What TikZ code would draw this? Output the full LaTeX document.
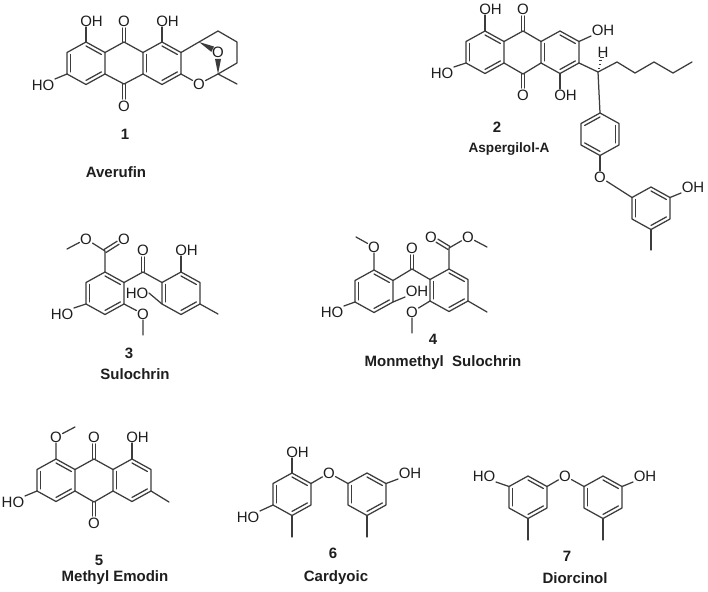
\documentclass[tikz,border=0pt]{standalone}
\usepackage{fontspec}
\setmainfont{Liberation Sans}
\usetikzlibrary{calc}
\definecolor{ink}{HTML}{1E1E1E}
\definecolor{bondc}{HTML}{3C3C3C}
\tikzset{
  bond/.style={draw=bondc,line width=1.25pt,line cap=round,line join=round},
  lab/.style={inner sep=0.5pt,text=ink,font=\fontsize{15}{15}\selectfont},
  num/.style={inner sep=0pt,text=ink,font=\fontsize{15}{15}\selectfont\bfseries},
  capt/.style={inner sep=0pt,text=ink,font=\fontsize{#1}{#1}\selectfont\bfseries},
  capt/.default=15
}
% hexagon: name, x of top atom, y of top atom
\newcommand{\hexcoords}[3]{%
  \coordinate (#11) at (#2,#3);
  \coordinate (#12) at (#2+19,#3+10.5);
  \coordinate (#13) at (#2+19,#3+32);
  \coordinate (#14) at (#2,#3+42.5);
  \coordinate (#15) at (#2-19,#3+32);
  \coordinate (#16) at (#2-19,#3+10.5);
  \coordinate (#1c) at (#2,#3+21);
  \draw[bond] (#11)--(#12)--(#13)--(#14)--(#15)--(#16)--cycle;
}
\newcommand{\dbin}[3]{\draw[bond] ($(#1)!0.19!(#3)$) -- ($(#2)!0.19!(#3)$);}
\newcommand{\hexa}[3]{\hexcoords{#1}{#2}{#3}\dbin{#16}{#15}{#1c}\dbin{#11}{#12}{#1c}\dbin{#13}{#14}{#1c}}
\newcommand{\hexb}[3]{\hexcoords{#1}{#2}{#3}\dbin{#11}{#16}{#1c}\dbin{#12}{#13}{#1c}\dbin{#14}{#15}{#1c}}
% C=O double bond from coordinate to node
\newcommand{\dco}[2]{%
  \draw[bond,shorten >=7pt] ($(#1)!1.8pt!90:(#2.center)$) -- ($(#2.center)!1.8pt!-90:(#1)$);
  \draw[bond,shorten >=7pt] ($(#1)!1.8pt!-90:(#2.center)$) -- ($(#2.center)!1.8pt!90:(#1)$);
}
\begin{document}
\begin{tikzpicture}[x=1pt,y=-1pt]
\useasboundingbox (0,0) rectangle (708,591);
\fill[white] (0,0) rectangle (708,591);

% ---------- 1 Averufin
\hexa{a}{86}{42}
\hexa{b}{162}{42}
\coordinate (a9) at (124,42);
\coordinate (a10) at (124,84);
\draw[bond] (a2)--(a9)--(b6) (a3)--(a10)--(b5);
\coordinate (a11) at (199,42);
\coordinate (a12) at (218,74);
\coordinate (a13) at (218,31);
\coordinate (a14) at (237,42);
\coordinate (a15) at (237,63);
\coordinate (a16) at (237,84);
\node[lab] (aoa) at (91.5,21) {OH};
\node[lab] (aob) at (124,21) {O};
\node[lab] (aoc) at (167.5,21) {OH};
\node[lab] (aod) at (43,85) {HO};
\node[lab] (aoe) at (124,106) {O};
\node[lab] (aof) at (199,84) {O};
\node[lab] (aog) at (218,52) {O};
\draw[bond] (a1) -- ([xshift=-5.5pt]aoa.south);
\draw[bond] (b1) -- ([xshift=-5.5pt]aoc.south);
\draw[bond] (a5) -- (aod.north east);
\dco{a9}{aob}
\dco{a10}{aoe}
\draw[bond] (b2)--(a11)--(a13)--(a14)--(a15)--(a12)--(a16);
\draw[bond] (b3)--(aof)--(a12);
\fill[bondc] (a11) -- ($(aog.center)!6pt!(a11)!3pt!90:(aog.center)$) -- ($(aog.center)!6pt!(a11)!3pt!-90:(aog.center)$) -- cycle;
\fill[bondc] (a12) -- ($(aog.center)!7pt!(a12)!3pt!90:(aog.center)$) -- ($(aog.center)!7pt!(a12)!3pt!-90:(aog.center)$) -- cycle;
\node[num] (n1) at (125,134) {1};
\node[capt] (t1) at (116,172) {Averufin};

% ---------- 2 Aspergilol-A
\hexa{c}{485}{31}
\hexa{d}{560}{31}
\coordinate (c9) at (523,31);
\coordinate (c10) at (523,74);
\draw[bond] (c2)--(c9)--(d6) (c3)--(c10)--(d5);
\node[lab] (coa) at (490.5,9) {OH};
\node[lab] (cob) at (523,9) {O};
\node[lab] (coc) at (603,30) {OH};
\node[lab] (cod) at (442,73) {HO};
\node[lab] (coe) at (523,95) {O};
\node[lab] (cof) at (565.5,95) {OH};
\draw[bond] (c1) -- ([xshift=-5.5pt]coa.south);
\dco{c9}{cob}
\dco{c10}{coe}
\draw[bond] (d2) -- (coc.south west);
\draw[bond] (c5) -- (cod.north east);
\draw[bond] (d4) -- ([xshift=-5.5pt]cof.north);
\coordinate (ch) at (598,72);
\coordinate (c21) at (617,62);
\coordinate (c22) at (635,73);
\coordinate (c23) at (654,62);
\coordinate (c24) at (673,73);
\coordinate (c25) at (692,62);
\draw[bond] (d3)--(ch)--(c21)--(c22)--(c23)--(c24)--(c25);
\node[lab] (cH) at (603,52) {H};
\foreach \t/\w in {0.2/0.7,0.38/1.1,0.56/1.5,0.74/1.9}
  \draw[bondc,line width=0.9pt] ($(ch)!\t!(cH.center)+(-\w,0)$) -- ($(ch)!\t!(cH.center)+(\w,0)$);
\hexb{e}{600}{113}
\draw[bond] (ch)--(e1);
\node[lab] (cog) at (600,177) {O};
\draw[bond] (e4)--(cog);
\hexa{f}{651}{187}
\draw[bond] (cog)--(f6);
\node[lab] (coh) at (693,187) {OH};
\draw[bond] (f2) -- (coh.south west);
\coordinate (cme) at (651,250);
\draw[bond] (f4)--(cme);
\node[num] (n2) at (497,127) {2};
\node[capt=13.6] (t2) at (509,149) {Aspergilol-A};

% ---------- 3 Sulochrin
\hexa{g}{105}{272}
\hexa{h}{181}{272}
\coordinate (g7) at (105,251);
\coordinate (g8) at (143,272);
\coordinate (g9) at (67,249);
\coordinate (g10) at (143,335);
\coordinate (g11) at (218,314);
\node[lab] (goa) at (124,239) {O};
\node[lab] (gob) at (86,239) {O};
\node[lab] (goc) at (143,250) {O};
\node[lab] (god) at (186.5,250) {OH};
\node[lab] (goe) at (137,293) {HO};
\node[lab] (gof) at (143,314) {O};
\node[lab] (gog) at (62,314) {HO};
\draw[bond] (g1)--(g7)--(gob)--(g9);
\dco{g7}{goa}
\draw[bond] (g2)--(g8)--(h6);
\dco{g8}{goc}
\draw[bond] (h1) -- ([xshift=-5.5pt]god.south);
\draw[bond] (h5) -- (goe.east);
\draw[bond] (g3)--(gof)--(g10);
\draw[bond] (g5) -- (gog.north east);
\draw[bond] (h3)--(g11);
\node[num] (n3) at (129,353) {3};
\node[capt] (t3) at (135,374) {Sulochrin};

% ---------- 4 Monmethyl Sulochrin
\hexa{i}{374}{270}
\hexa{j}{449}{269}
\coordinate (i7) at (412,269);
\coordinate (i8) at (356,237);
\coordinate (i9) at (449,248);
\coordinate (i10) at (487,247);
\coordinate (i11) at (487,312);
\coordinate (i12) at (412,333);
\node[lab] (ioa) at (374,247) {O};
\node[lab] (iob) at (412,248) {O};
\node[lab] (ioc) at (431,237) {O};
\node[lab] (iod) at (468,237) {O};
\node[lab] (ioe) at (417,291) {OH};
\node[lab] (iof) at (332,312) {HO};
\node[lab] (iog) at (412,312) {O};
\draw[bond] (i1)--(ioa)--(i8);
\draw[bond] (i2)--(i7)--(j6);
\dco{i7}{iob}
\draw[bond] (j1)--(i9)--(iod)--(i10);
\dco{i9}{ioc}
\draw[bond] (j3)--(i11);
\draw[bond] (i3) -- (ioe.south west);
\draw[bond] (i5) -- (iof.north east);
\draw[bond] (j5)--(iog)--(i12);
\node[num] (n4) at (433,339) {4};
\node[capt] (t4) at (443,363) {Monmethyl\ \ Sulochrin};

% ---------- 5 Methyl Emodin
\hexa{k}{56}{459}
\hexa{l}{132}{459}
\coordinate (k9) at (94,459);
\coordinate (k10) at (94,502);
\draw[bond] (k2)--(k9)--(l6) (k3)--(k10)--(l5);
\coordinate (k11) at (75,427);
\coordinate (k12) at (169,502);
\node[lab] (koa) at (56,437) {O};
\node[lab] (kob) at (94,437) {O};
\node[lab] (koc) at (137.5,437) {OH};
\node[lab] (kod) at (94,523) {O};
\node[lab] (koe) at (13,502) {HO};
\draw[bond] (k1)--(koa)--(k11);
\dco{k9}{kob}
\dco{k10}{kod}
\draw[bond] (l1) -- ([xshift=-5.5pt]koc.south);
\draw[bond] (k5) -- (koe.north east);
\draw[bond] (l3)--(k12);
\node[num] (n5) at (99,560) {5};
\node[capt] (t5) at (115,578) {Methyl Emodin};

% ---------- 6 Cardyoic
\hexa{m}{292}{473}
\hexa{p}{367}{473}
\node[lab] (moa) at (297.5,452) {OH};
\node[lab] (mob) at (248,517) {HO};
\node[lab] (moc) at (329,473) {O};
\node[lab] (mod) at (410,473) {OH};
\coordinate (m7) at (292,537);
\coordinate (m8) at (367,537);
\draw[bond] (m1) -- ([xshift=-5.5pt]moa.south);
\draw[bond] (m5) -- (mob.north east);
\draw[bond] (m2)--(moc)--(p6);
\draw[bond] (p2) -- (mod.south west);
\draw[bond] (m4)--(m7) (p4)--(m8);
\node[num] (n6) at (333,553) {6};
\node[capt] (t6) at (336,578) {Cardyoic};

% ---------- 7 Diorcinol
\hexa{q}{528}{476}
\hexa{r}{603}{476}
\node[lab] (qoa) at (484,476) {HO};
\node[lab] (qob) at (565,476) {O};
\node[lab] (qoc) at (645,476) {OH};
\coordinate (q7) at (528,540);
\coordinate (q8) at (603,540);
\draw[bond] (q6) -- (qoa.south east);
\draw[bond] (q2)--(qob)--(r6);
\draw[bond] (r2) -- (qoc.south west);
\draw[bond] (q4)--(q7) (r4)--(q8);
\node[num] (n7) at (567,556) {7};
\node[capt] (t7) at (575,578) {Diorcinol};
\end{tikzpicture}
\end{document}
